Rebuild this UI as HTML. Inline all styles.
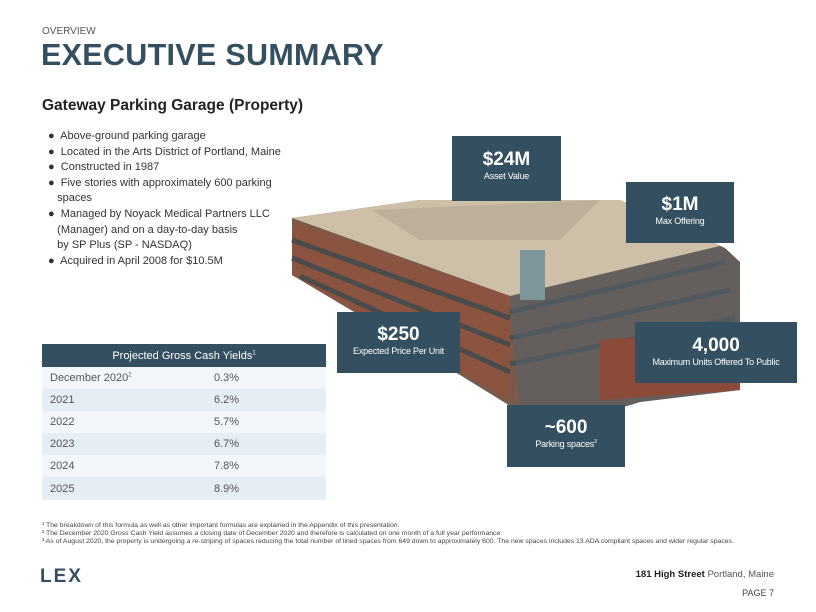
<!DOCTYPE html>
<html><head><meta charset="utf-8"><style>
*{margin:0;padding:0;box-sizing:border-box}
body{width:816px;height:612px;background:#fff;position:relative;overflow:hidden;font-family:"Liberation Sans",sans-serif;color:#333}
.a{position:absolute;white-space:nowrap}
.box{position:absolute;background:#344f5f;color:#fff;text-align:center}
.box b{display:block;font-size:19px;font-weight:bold}
.box span{display:block;font-size:9px;letter-spacing:-0.2px}
ul{position:absolute;left:48px;top:129px;list-style:none;font-size:11px;color:#333;line-height:15.6px}
table{position:absolute;left:42px;top:344px;width:284px;border-collapse:collapse;font-size:11px;color:#555}
th{background:#344f5f;color:#fff;font-weight:normal;height:23px;font-size:11px}
td{height:22.1px;padding-left:8px}
td+td{padding-left:0;width:112px}
tr:nth-child(even) td{background:#f3f7fb}
tr:nth-child(odd) td{background:#e5edf5}
.fn{font-size:6.85px;color:#444;left:42px}
</style></head><body>
<div class="a" style="left:42px;top:26px;font-size:10px;color:#555">OVERVIEW</div>
<div class="a" style="left:41px;top:38px;font-size:30.5px;font-weight:bold;color:#344f5f;letter-spacing:0.3px">EXECUTIVE SUMMARY</div>
<div class="a" style="left:42px;top:97px;font-size:15.5px;font-weight:bold;color:#222">Gateway Parking Garage (Property)</div>
<ul>
<li>●&nbsp; Above-ground parking garage</li>
<li>●&nbsp; Located in the Arts District of Portland, Maine</li>
<li>●&nbsp; Constructed in 1987</li>
<li>●&nbsp; Five stories with approximately 600 parking<br>&nbsp;&nbsp;&nbsp;spaces</li>
<li>●&nbsp; Managed by Noyack Medical Partners LLC<br>&nbsp;&nbsp;&nbsp;(Manager) and on a day-to-day basis<br>&nbsp;&nbsp;&nbsp;by SP Plus (SP - NASDAQ)</li>
<li>●&nbsp; Acquired in April 2008 for $10.5M</li>
</ul>
<svg class="a" style="left:0;top:0" width="816" height="612">
<polygon points="292,218 420,200 620,200 725,248 740,262 740,390 640,402 580,420 520,412 460,375 292,275" fill="#7a5a4a"/>
<polygon points="292,218 420,200 620,200 720,246 510,296" fill="#cdbfa8"/>
<polygon points="372,210 600,200 560,240 420,240" fill="#bcb09a"/>
<polygon points="292,222 510,296 510,400 292,275" fill="#8a5440"/>
<g stroke="#3d4a50" stroke-width="5" opacity="0.8">
<line x1="292" y1="240" x2="510" y2="318"/><line x1="292" y1="258" x2="510" y2="345"/><line x1="300" y1="276" x2="510" y2="372"/>
<line x1="510" y1="312" x2="725" y2="262"/><line x1="510" y1="338" x2="730" y2="290"/><line x1="510" y1="364" x2="735" y2="318"/>
</g>
<polygon points="510,296 720,246 740,262 740,390 640,402 580,420 520,412" fill="#55626a" opacity="0.6"/>
<polygon points="520,250 545,250 545,300 520,300" fill="#7d969b"/>
<polygon points="600,340 740,330 740,390 600,400" fill="#8c4a38"/>
</svg>
<div class="box" style="left:452px;top:136px;width:109px;height:65px;padding-top:13px"><b>$24M</b><span>Asset Value</span></div>
<div class="box" style="left:626px;top:182px;width:108px;height:61px;padding-top:12px"><b>$1M</b><span>Max Offering</span></div>
<div class="box" style="left:337px;top:312px;width:123px;height:61px;padding-top:12px"><b>$250</b><span>Expected Price Per Unit</span></div>
<div class="box" style="left:635px;top:322px;width:162px;height:61px;padding-top:13px"><b>4,000</b><span>Maximum Units Offered To Public</span></div>
<div class="box" style="left:507px;top:405px;width:118px;height:62px;padding-top:12px"><b>~600</b><span>Parking spaces<sup style="font-size:5px">3</sup></span></div>
<table>
<tr><th colspan="2">Projected Gross Cash Yields<sup style="font-size:6px">1</sup></th></tr>
<tr><td>December 2020<sup style="font-size:6px">2</sup></td><td>0.3%</td></tr>
<tr><td>2021</td><td>6.2%</td></tr>
<tr><td>2022</td><td>5.7%</td></tr>
<tr><td>2023</td><td>6.7%</td></tr>
<tr><td>2024</td><td>7.8%</td></tr>
<tr><td>2025</td><td>8.9%</td></tr>
</table>
<div class="a fn" style="top:522px">¹ The breakdown of this formula as well as other important formulas are explained in the Appendix of this presentation.</div>
<div class="a fn" style="top:530px">² The December 2020 Gross Cash Yield assumes a closing date of December 2020 and therefore is calculated on one month of a full year performance.</div>
<div class="a fn" style="top:538px">³ As of August 2020, the property is undergoing a re-striping of spaces reducing the total number of lined spaces from 649 down to approximately 600. The new spaces includes 13 ADA compliant spaces and wider regular spaces.</div>
<div class="a" style="left:40px;top:566px;font-size:19px;font-weight:bold;color:#344f5f;letter-spacing:2px">LEX</div>
<div class="a" style="right:42px;top:569px;font-size:9.5px;color:#222"><b>181 High Street</b> <span style="color:#555">Portland, Maine</span></div>
<div class="a" style="right:42px;top:588px;font-size:9px;color:#444">PAGE 7</div>
</body></html>
